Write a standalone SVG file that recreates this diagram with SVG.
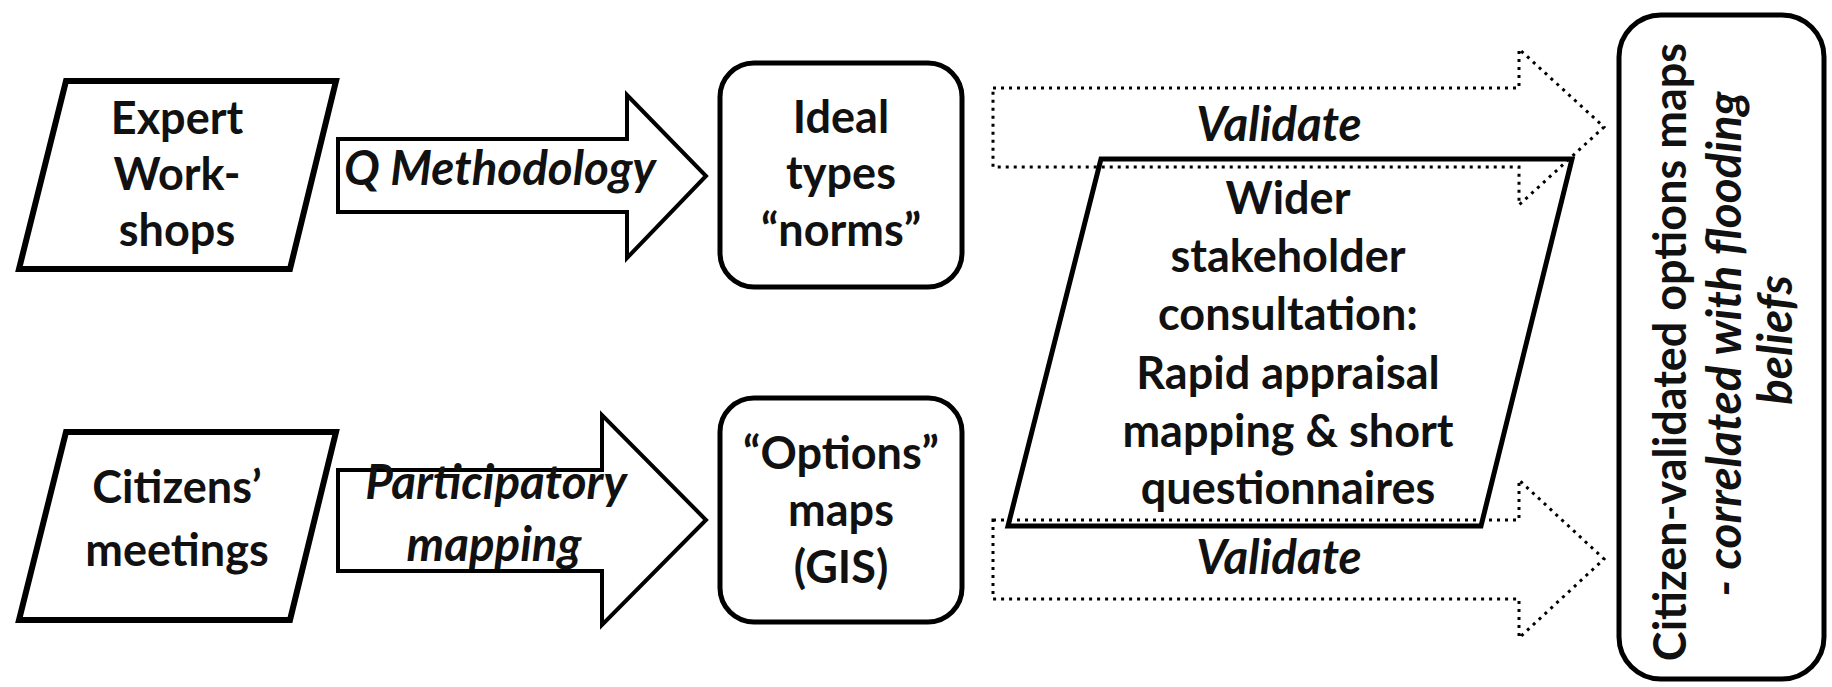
<svg xmlns="http://www.w3.org/2000/svg" width="1832" height="687" viewBox="0 0 1832 687">
<style>
.t{font-family:Lato,"Liberation Sans",sans-serif;font-size:45px;font-weight:bold;fill:#111;text-anchor:middle}
.i{font-style:italic;font-size:47.5px}
.para{fill:#fff;stroke:#000;stroke-width:6;stroke-linejoin:miter}
.rbox{fill:#fff;stroke:#000;stroke-width:5}
.arrow{fill:#fff;stroke:#000;stroke-width:4;stroke-linejoin:miter}
.dot{fill:none;stroke:#000;stroke-width:3;stroke-dasharray:3 5}
.wide{fill:none;stroke:#000;stroke-width:5;stroke-linejoin:miter}
</style>
<rect width="1832" height="687" fill="#fff"/>
<g id="connectors">
  <g id="arrow-q">
    <polygon class="arrow" points="338,139 627,139 627,95 706,176 627,258 627,212 338,212"/>
    <text class="t i" x="500" y="185">Q Methodology</text>
  </g>
  <g id="arrow-p">
    <polygon class="arrow" points="338,470 602,470 602,415 706,520 602,625 602,571 338,571"/>
    <text class="t i" x="496" y="499">Participatory</text>
    <text class="t i" x="494" y="561">mapping</text>
  </g>
  <g id="arrow-validate-top">
    <polygon class="dot" points="993,88 1519,88 1519,49 1604,127 1519,205 1519,167 993,167"/>
    <text class="t i" x="1279" y="141">Validate</text>
  </g>
  <g id="arrow-validate-bottom">
    <polygon class="dot" points="993,520 1519,520 1519,480 1604,559 1519,638 1519,599 993,599"/>
    <text class="t i" x="1279" y="574">Validate</text>
  </g>
</g>
<g id="node-expert">
  <polygon class="para" points="66,81 336,81 290,269 19,269"/>
  <text class="t" x="177" y="134">Expert</text>
  <text class="t" x="177" y="190">Work-</text>
  <text class="t" x="177" y="246">shops</text>
</g>
<g id="node-citizens">
  <polygon class="para" points="66,432 336,432 290,620 19,620"/>
  <text class="t" x="177" y="503">Citizens’</text>
  <text class="t" x="177" y="566">meetings</text>
</g>
<g id="node-ideal">
  <rect class="rbox" x="720" y="63" width="242" height="224" rx="34"/>
  <text class="t" x="841" y="133">Ideal</text>
  <text class="t" x="841" y="189">types</text>
  <text class="t" x="841" y="246">“norms”</text>
</g>
<g id="node-options">
  <rect class="rbox" x="720" y="398" width="242" height="224" rx="34"/>
  <text class="t" x="841" y="469">“Options”</text>
  <text class="t" x="841" y="526">maps</text>
  <text class="t" x="841" y="583">(GIS)</text>
</g>
<g id="node-wider">
  <polygon class="wide" points="1101,159 1572,159 1481,526 1008,526"/>
  <text class="t" x="1288" y="214">Wider</text>
  <text class="t" x="1288" y="272">stakeholder</text>
  <text class="t" x="1288" y="330">consultation:</text>
  <text class="t" x="1288" y="389">Rapid appraisal</text>
  <text class="t" x="1288" y="447">mapping &amp; short</text>
  <text class="t" x="1288" y="504">questionnaires</text>
</g>
<g id="node-citizen-validated">
  <rect class="rbox" x="1619" y="15" width="205" height="664" rx="42"/>
  <text class="t" transform="translate(1686,352) rotate(-90)">Citizen-validated options maps</text>
  <text class="t i" transform="translate(1741,344) rotate(-90)">- correlated with flooding</text>
  <text class="t i" transform="translate(1792,340) rotate(-90)">beliefs</text>
</g>
</svg>
